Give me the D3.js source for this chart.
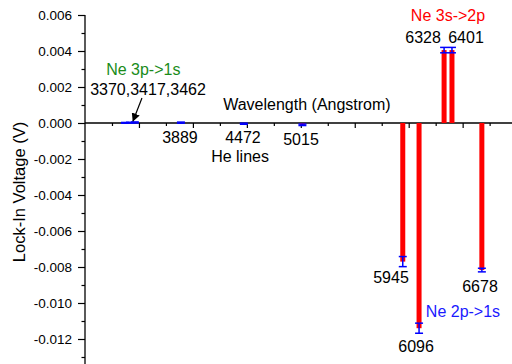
<!DOCTYPE html>
<html>
<head>
<meta charset="utf-8">
<script src="https://cdn.jsdelivr.net/npm/d3@7"></script>
<style>
	body { margin: 0; background: #fff; }
	svg { display: block; font-family: Arial, "Liberation Sans", sans-serif; }
</style>
</head>
<body>
<script>
"use strict";

// emission lines (Angstrom) and lock-in readings (V)
const wavelengths = [3370, 3417, 3462, 3889, 4472, 5015, 5945, 6096, 6328, 6401, 6678];
const voltages = [0.00001, 0.00002, 0.00003, 0.00002, -0.00004, -0.0001, -0.0077, -0.0114, 0.00405, 0.00405, -0.00817];
const errors = [0.00002, 0.00002, 0.00003, 0.00003, 0.00003, 0.00004, 0.00028, 0.00028, 0.00015, 0.00015, 0.0001];

const yTicks = [0.006, 0.004, 0.002, 0.000, -0.002, -0.004, -0.006, -0.008, -0.010, -0.012];
const yMinor = [0.005, 0.003, 0.001, -0.001, -0.003, -0.005, -0.007, -0.009, -0.011, -0.013];
const xTicks = [3500, 4000, 4500, 5000, 5500, 6000, 6500];
const xMinor = [3250, 3750, 4250, 4750, 5250, 5750, 6250, 6750];

// annotations placed in data coordinates
const notes = [
	{text: "Ne 3p->1s", w: 3540, v: 0.00265, color: "#1a8c1a"},
	{text: "3370,3417,3462", w: 3584, v: 0.00156, color: "#000"},
	{text: "Wavelength (Angstrom)", w: 5057, v: 0.00072, color: "#000"},
	{text: "3889", w: 3880, v: -0.00111, color: "#000"},
	{text: "4472", w: 4464, v: -0.00111, color: "#000"},
	{text: "5015", w: 5002, v: -0.00122, color: "#000"},
	{text: "He lines", w: 4437, v: -0.00217, color: "#000"},
	{text: "Ne 3s->2p", w: 6364, v: 0.00567, color: "#ff0000"},
	{text: "6328", w: 6133, v: 0.00444, color: "#000"},
	{text: "6401", w: 6531, v: 0.00444, color: "#000"},
	{text: "5945", w: 5836, v: -0.00889, color: "#000"},
	{text: "6096", w: 6068, v: -0.01272, color: "#000"},
	{text: "Ne 2p->1s", w: 6503, v: -0.01078, color: "#1a1aff"},
	{text: "6678", w: 6661, v: -0.00939, color: "#000"}
];
const arrow = {w1: 3528, v1: 0.00139, w2: 3445, v2: 0.00011};

const width = 512;
const height = 364;

const svg = d3.select("body").append("svg")
	.attr("width", width)
	.attr("height", height);

const x = d3.scaleLinear().domain([3000, 7000]).range([85, 516.6]);
const y = d3.scaleLinear().domain([-0.014, 0.006]).range([375, 15]);

function clean(g) {
	g.selectAll(".domain").remove();
	g.selectAll(".tick line").attr("stroke-width", 1.2);
}

// left axis
const left = svg.append("g").attr("transform", `translate(${x(3000)},0)`);
left.append("g").call(d3.axisLeft(y).tickValues(yTicks).tickSize(7).tickPadding(6)
	.tickFormat(d => d3.format(".3f")(d).replace("\u2212", "-"))).call(clean);
left.append("g").call(d3.axisLeft(y).tickValues(yMinor).tickSize(3.5).tickFormat("")).call(clean);
left.append("line").attr("y1", y(0.006)).attr("y2", height).attr("stroke", "#000").attr("stroke-width", 1.3);
left.selectAll(".tick text").attr("font-size", 13.5).attr("fill", "#000");

// right axis (line itself sits just outside the frame)
const right = svg.append("g").attr("transform", `translate(${x(7000)},0)`);
right.append("g").call(d3.axisLeft(y).tickValues(yTicks).tickSize(-7).tickFormat("")).call(clean);
right.append("g").call(d3.axisLeft(y).tickValues(yMinor).tickSize(-3.5).tickFormat("")).call(clean);
right.append("line").attr("y1", y(0.006)).attr("y2", height).attr("stroke", "#000").attr("stroke-width", 1.3);

// zero axis
const zero = svg.append("g").attr("transform", `translate(0,${y(0)})`);
zero.append("g").call(d3.axisBottom(x).tickValues(xTicks).tickSize(5).tickFormat("")).call(clean);
zero.append("g").call(d3.axisBottom(x).tickValues(xMinor).tickSize(3).tickFormat("")).call(clean);
zero.append("line").attr("x1", x(3000)).attr("x2", x(7000)).attr("stroke", "#000").attr("stroke-width", 1.3);

const rows = wavelengths.map((w, i) => ({w: w, v: voltages[i], e: errors[i]}));

// bars
svg.append("g").selectAll("rect").data(rows).join("rect")
	.attr("x", d => x(d.w) - 2.5)
	.attr("width", 5)
	.attr("y", d => Math.min(y(d.v), y(0)))
	.attr("height", d => Math.abs(y(d.v) - y(0)))
	.attr("fill", "#ff0000");

// error bars
const err = svg.append("g").attr("stroke", "#0000ff").attr("stroke-width", 1.5);
err.selectAll("line.stem").data(rows).join("line").attr("class", "stem")
	.attr("x1", d => x(d.w)).attr("x2", d => x(d.w))
	.attr("y1", d => y(d.v - d.e)).attr("y2", d => y(d.v + d.e));
err.selectAll("line.lo").data(rows).join("line").attr("class", "lo")
	.attr("x1", d => x(d.w) - 4).attr("x2", d => x(d.w) + 4)
	.attr("y1", d => y(d.v - d.e)).attr("y2", d => y(d.v - d.e));
err.selectAll("line.hi").data(rows).join("line").attr("class", "hi")
	.attr("x1", d => x(d.w) - 4).attr("x2", d => x(d.w) + 4)
	.attr("y1", d => y(d.v + d.e)).attr("y2", d => y(d.v + d.e));

// annotations
svg.append("g").selectAll("text").data(notes).join("text")
	.attr("x", d => x(d.w))
	.attr("y", d => y(d.v))
	.attr("text-anchor", "middle")
	.attr("font-size", 16)
	.attr("fill", d => d.color)
	.text(d => d.text);

svg.append("defs").append("marker")
	.attr("id", "head")
	.attr("viewBox", "0 0 10 10")
	.attr("refX", 9).attr("refY", 5)
	.attr("markerWidth", 7).attr("markerHeight", 7)
	.attr("orient", "auto")
	.append("path").attr("d", "M0,0L10,5L0,10Z").attr("fill", "#000");

svg.append("line")
	.attr("x1", x(arrow.w1)).attr("y1", y(arrow.v1))
	.attr("x2", x(arrow.w2)).attr("y2", y(arrow.v2))
	.attr("stroke", "#000").attr("stroke-width", 1.2)
	.attr("marker-end", "url(#head)");

// y title
svg.append("text")
	.attr("transform", `translate(25,192) rotate(-90)`)
	.attr("text-anchor", "middle")
	.attr("font-size", 16.5)
	.attr("fill", "#000")
	.text("Lock-In Voltage (V)");
</script>
</body>
</html>
